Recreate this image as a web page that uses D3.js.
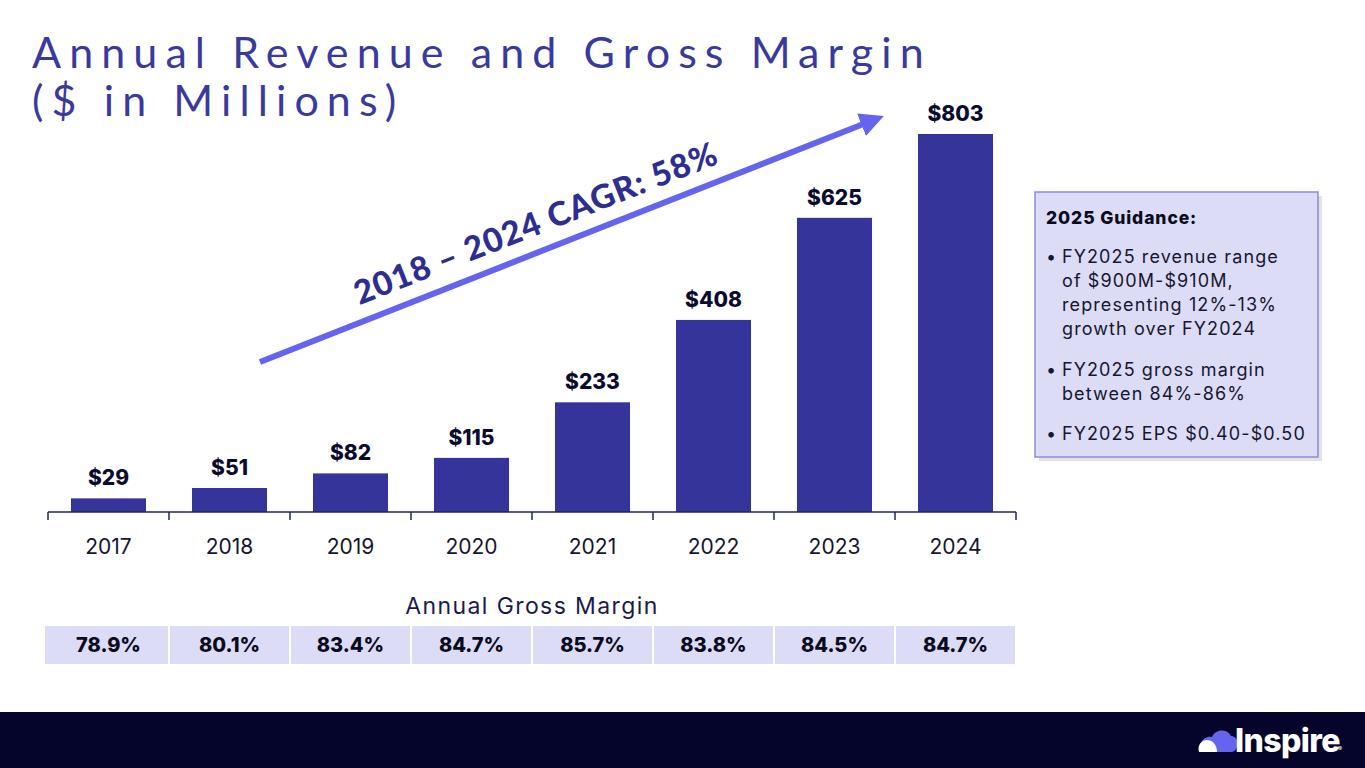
<!DOCTYPE html>
<html>
<head>
<meta charset="utf-8">
<script src="https://cdn.jsdelivr.net/npm/d3@7"></script>
<style>
  html, body { margin: 0; padding: 0; background: #fff; width: 100%; height: 100%; overflow: hidden; }
  svg { display: block; width: 100vw; height: 100vh; }
</style>
</head>
<body>
<svg></svg>
<script>
var years = ['2017', '2018', '2019', '2020', '2021', '2022', '2023', '2024'];
var revenue = [29, 51, 82, 115, 233, 408, 625, 803];
var grossMargin = ['78.9%', '80.1%', '83.4%', '84.7%', '85.7%', '83.8%', '84.5%', '84.7%'];
var guidance = [
    ['FY2025 revenue range', 'of $900M-$910M,', 'representing 12%-13%', 'growth over FY2024'],
    ['FY2025 gross margin', 'between 84%-86%'],
    ['FY2025 EPS $0.40-$0.50']
];

const iWidth = 1365, iHeight = 768;
const margin = {top: 134, left: 48, right: 349, bottom: 256};
const innerWidth = iWidth - margin.left - margin.right;
const innerHeight = iHeight - margin.top - margin.bottom;
const baseY = margin.top + innerHeight;

var canvas = d3.select('svg')
               .attr('viewBox', `0 0 ${iWidth} ${iHeight}`)
               .attr('preserveAspectRatio', 'xMidYMid meet');

// title
canvas.append('text')
    .attr('x', 32).attr('y', 68)
    .attr('fill', '#3a3a9c')
    .style('font-family', 'Lato, sans-serif')
    .style('font-size', '43px')
    .style('letter-spacing', '8.1px')
    .text('Annual Revenue and Gross Margin');
canvas.append('text')
    .attr('x', 32).attr('y', 116)
    .attr('fill', '#3a3a9c')
    .style('font-family', 'Lato, sans-serif')
    .style('font-size', '43px')
    .style('letter-spacing', '8.1px')
    .text('($ in Millions)');

const xScale = d3.scaleBand()
                 .domain(years)
                 .range([margin.left, margin.left + innerWidth])
                 .paddingInner(0.38)
                 .paddingOuter(0.19);

const yScale = d3.scaleLinear()
                 .domain([0, 803])
                 .range([baseY, margin.top]);

canvas.selectAll('rect.bar')
    .data(revenue)
    .enter()
    .append('rect')
    .attr('class', 'bar')
    .attr('x', (d, i) => xScale(years[i]))
    .attr('width', xScale.bandwidth())
    .attr('y', d => yScale(d))
    .attr('height', d => baseY - yScale(d))
    .attr('fill', '#34349a');

canvas.selectAll('text.val')
    .data(revenue)
    .enter()
    .append('text')
    .attr('class', 'val')
    .attr('x', (d, i) => xScale(years[i]) + xScale.bandwidth() / 2)
    .attr('y', d => yScale(d) - 13)
    .attr('text-anchor', 'middle')
    .attr('fill', '#0b0b2e')
    .style('font-family', 'Inter, "Noto Sans", sans-serif')
    .style('font-weight', '800')
    .style('font-size', '21px')
    .text(d => '$' + d);

// axis with ticks between the bands
var step = xScale.step();
canvas.append('line')
    .attr('x1', margin.left).attr('x2', margin.left + innerWidth)
    .attr('y1', baseY).attr('y2', baseY)
    .attr('stroke', '#1e2a4a').attr('stroke-width', 1.5);
canvas.selectAll('line.tick')
    .data(d3.range(years.length + 1))
    .enter()
    .append('line')
    .attr('class', 'tick')
    .attr('x1', i => margin.left + i * step).attr('x2', i => margin.left + i * step)
    .attr('y1', baseY).attr('y2', baseY + 8)
    .attr('stroke', '#1e2a4a').attr('stroke-width', 1.5);
canvas.selectAll('text.yr')
    .data(years)
    .enter()
    .append('text')
    .attr('class', 'yr')
    .attr('x', d => xScale(d) + xScale.bandwidth() / 2)
    .attr('y', baseY + 42)
    .attr('text-anchor', 'middle')
    .attr('fill', '#16162e')
    .style('font-family', 'Inter, "Noto Sans", sans-serif')
    .style('font-size', '21px')
    .text(d => d);

// CAGR arrow
var defs = canvas.append('defs');
defs.append('marker')
    .attr('id', 'head')
    .attr('viewBox', '0 0 10 10')
    .attr('refX', 2).attr('refY', 5)
    .attr('markerWidth', 4).attr('markerHeight', 4)
    .attr('orient', 'auto')
    .append('path')
    .attr('d', 'M0,0 L10,5 L0,10 z')
    .attr('fill', '#6464ee');
var a0 = [260, 362], a1 = [866, 123];
canvas.append('line')
    .attr('x1', a0[0]).attr('y1', a0[1])
    .attr('x2', a1[0]).attr('y2', a1[1])
    .attr('stroke', '#6464ee')
    .attr('stroke-width', 6)
    .attr('marker-end', 'url(#head)');
var ang = Math.atan2(a1[1] - a0[1], a1[0] - a0[0]) * 180 / Math.PI;
canvas.append('text')
    .attr('transform', `translate(540,234) rotate(${ang})`)
    .attr('text-anchor', 'middle')
    .attr('fill', '#2e2e90')
    .style('font-family', 'Lato, sans-serif')
    .style('font-weight', '900')
    .style('font-size', '33px')
    .style('letter-spacing', '1px')
    .text('2018 \u2013 2024 CAGR: 58%');

// guidance box
const bx = 1035, by = 192;
canvas.append('rect')
    .attr('x', bx + 4).attr('y', by + 4)
    .attr('width', 283).attr('height', 265)
    .attr('fill', '#cfcfcf').attr('opacity', 0.6);
canvas.append('rect')
    .attr('x', bx).attr('y', by)
    .attr('width', 283).attr('height', 265)
    .attr('fill', '#dcdcf6')
    .attr('stroke', '#8c8cd8').attr('stroke-width', 1.5);
canvas.append('text')
    .attr('x', bx + 11).attr('y', by + 32)
    .attr('fill', '#0b0b1e')
    .style('font-family', 'Inter, "Noto Sans", sans-serif')
    .style('font-weight', '800')
    .style('font-size', '17.5px')
    .style('letter-spacing', '0.9px')
    .text('2025 Guidance:');
var lineY = [[71, 95, 119, 143], [184, 208], [248]];
guidance.forEach(function(lines, b) {
    canvas.append('text')
        .attr('x', bx + 11).attr('y', by + lineY[b][0])
        .attr('fill', '#16162e')
        .style('font-family', 'Inter, "Noto Sans", sans-serif')
        .style('font-size', '18px')
        .text('\u2022');
    lines.forEach(function(l, j) {
        canvas.append('text')
            .attr('x', bx + 27).attr('y', by + lineY[b][j])
            .attr('fill', '#16162e')
            .style('font-family', 'Inter, "Noto Sans", sans-serif')
            .style('font-size', '18px')
            .style('letter-spacing', '1.1px')
            .text(l);
    });
});

// gross margin row
const gy = 626;
canvas.append('text')
    .attr('x', margin.left + innerWidth / 2)
    .attr('y', 614)
    .attr('text-anchor', 'middle')
    .attr('fill', '#1a1a4a')
    .style('font-family', 'Inter, "Noto Sans", sans-serif')
    .style('font-size', '23px')
    .style('letter-spacing', '1.4px')
    .text('Annual Gross Margin');
canvas.selectAll('rect.gm')
    .data(grossMargin)
    .enter()
    .append('rect')
    .attr('class', 'gm')
    .attr('x', (d, i) => margin.left + i * step - (i === 0 ? 4 : 0) + 1)
    .attr('y', gy)
    .attr('width', (d, i) => step - 2 + (i === 0 ? 4 : 0))
    .attr('height', 38)
    .attr('fill', '#dcdcf6');
canvas.selectAll('text.gm')
    .data(grossMargin)
    .enter()
    .append('text')
    .attr('class', 'gm')
    .attr('x', (d, i) => xScale(years[i]) + xScale.bandwidth() / 2)
    .attr('y', gy + 26)
    .attr('text-anchor', 'middle')
    .attr('fill', '#0b0b1e')
    .style('font-family', 'Inter, "Noto Sans", sans-serif')
    .style('font-weight', '800')
    .style('font-size', '20px')
    .text(d => d);

// footer
canvas.append('rect')
    .attr('x', 0).attr('y', 712)
    .attr('width', iWidth).attr('height', 56)
    .attr('fill', '#05052c');
const lx = 1198, ly = 726;
canvas.append('path')
    .attr('transform', `translate(${lx},${ly})`)
    .attr('d', 'M7,26 C3,26 1,21 3,17 C5,12 10,10 14,11 C17,3 29,2 33,10 C38,10 41,15 39,21 C38,24 36,26 33,26 Z')
    .attr('fill', '#6464ee');
canvas.append('path')
    .attr('transform', `translate(${lx},${ly})`)
    .attr('d', 'M1,26 C-1,20 3,14 9,14 C15,14 19,19 19,26 Z')
    .attr('fill', '#ffffff');
canvas.append('text')
    .attr('x', lx + 37).attr('y', ly + 26)
    .attr('fill', '#ffffff')
    .style('font-family', 'Inter, "Noto Sans", sans-serif')
    .style('font-weight', '800')
    .style('font-size', '32px')
    .style('letter-spacing', '-0.6px')
    .text('Inspire');
canvas.append('text')
    .attr('x', lx + 140).attr('y', ly + 25)
    .attr('fill', '#ffffff')
    .style('font-family', 'Inter, "Noto Sans", sans-serif')
    .style('font-size', '6px')
    .text('®');
</script>
</body>
</html>
